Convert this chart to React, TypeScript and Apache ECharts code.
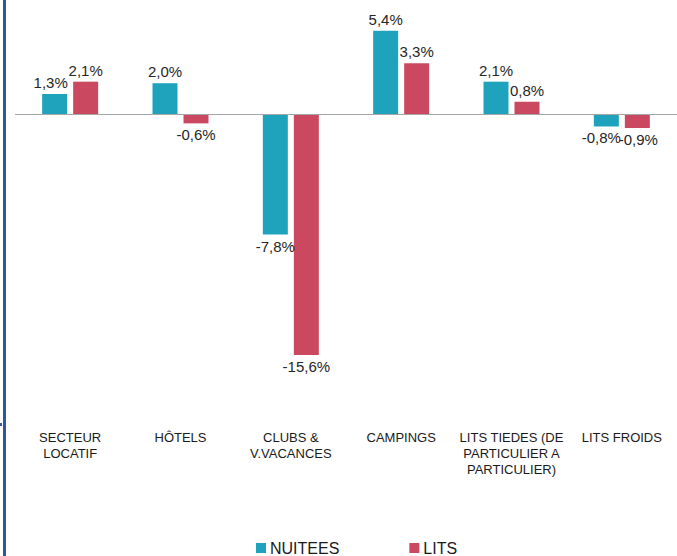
import React, { useEffect, useRef } from "react";
import * as echarts from "echarts";

const categories = [
  "SECTEUR\nLOCATIF",
  "HÔTELS",
  "CLUBS &\nV.VACANCES",
  "CAMPINGS",
  "LITS TIEDES (DE\nPARTICULIER A\nPARTICULIER)",
  "LITS FROIDS",
];
const nuitees = [1.3, 2.0, -7.8, 5.4, 2.1, -0.8];
const lits = [2.1, -0.6, -15.6, 3.3, 0.8, -0.9];
const seriesNames = ["NUITEES", "LITS"];

const fmt = (p: any) => p.value.toFixed(1).replace(".", ",") + "%";

export default function App() {
  const ref = useRef<HTMLDivElement>(null);
  useEffect(() => {
    if (!ref.current) return;
    const chart = echarts.init(ref.current, null, { renderer: "svg" });
    const shiftFor = (seriesIdx: number, i: number): number => {
      // nudge crowded labels like the original
      if (seriesIdx === 0 && i === 0) return -4;
      if (seriesIdx === 0 && i === 5) return -5;
      if (seriesIdx === 1 && i === 5) return 1;
      return 0;
    };
    const mkSeries = (idx: number, name: string, data: number[], color: string, withLine: boolean) => ({
      name,
      type: "bar",
      data: data.map((v, i) => ({
        value: v,
        label: { position: v >= 0 ? "top" : "bottom", offset: [shiftFor(idx, i), 0] },
      })),
      barWidth: 25,
      barGap: "24%",
      itemStyle: { color },
      label: {
        show: true,
        formatter: fmt,
        fontSize: 15,
        fontFamily: "Liberation Sans, Arial, sans-serif",
        color: "#262626",
        distance: 4,
      },
      markLine: withLine
        ? {
            silent: true,
            symbol: "none",
            label: { show: false },
            lineStyle: { color: "#a6a6a6", width: 1, type: "solid" },
            data: [{ yAxis: 0 }],
          }
        : undefined,
    });
    chart.setOption({
      animation: false,
      backgroundColor: "#ffffff",
      grid: { left: 15, right: -1, top: 6, height: 417, containLabel: false },
      legend: {
        data: seriesNames,
        left: 251,
        top: 535,
        icon: "rect",
        itemWidth: 10,
        itemHeight: 10,
        itemGap: 70,
        textStyle: {
          fontSize: 16,
          color: "#1a1a1a",
          fontFamily: "Liberation Sans, Arial, sans-serif",
          padding: [0, 0, 0, -1],
        },
      },
      xAxis: {
        type: "category",
        data: categories,
        axisLine: { show: false, onZero: false },
        axisTick: { show: false },
        axisLabel: {
          interval: 0,
          fontSize: 13,
          lineHeight: 16,
          margin: 6,
          color: "#1a1a1a",
          fontFamily: "Liberation Sans, Arial, sans-serif",
          verticalAlign: "top",
        },
      },
      yAxis: {
        type: "value",
        min: -20,
        max: 7,
        show: false,
        splitLine: { show: false },
      },
      graphic: [
        { type: "rect", shape: { x: 3, y: 0, width: 3, height: 556 }, style: { fill: "#2f55a4" } },
        { type: "rect", shape: { x: 0, y: 423, width: 2, height: 3 }, style: { fill: "#2f55a4" } },
      ],
      series: [
        mkSeries(0, seriesNames[0], nuitees, "#1fa3bd", true),
        mkSeries(1, seriesNames[1], lits, "#cb4861", false),
      ],
    });
    return () => chart.dispose();
  }, []);
  return (
    <div
      ref={ref}
      style={{ position: "fixed", left: 0, top: 0, width: 677, height: 556 }}
    />
  );
}
